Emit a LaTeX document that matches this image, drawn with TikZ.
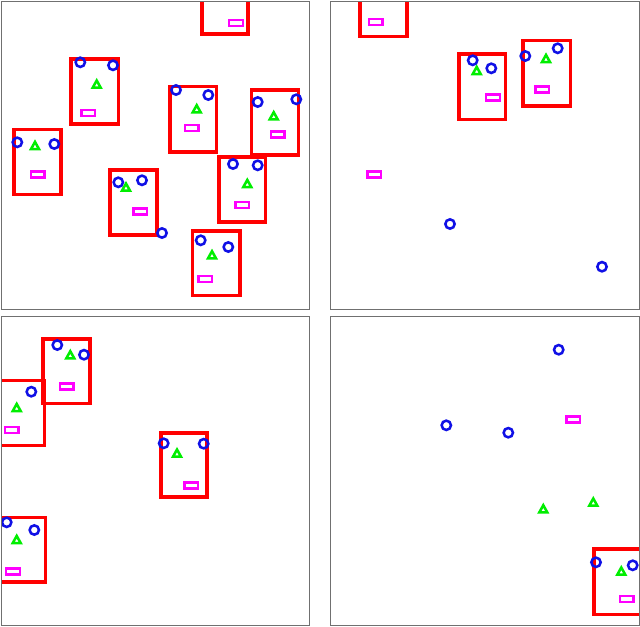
\documentclass[tikz,border=0pt]{standalone}
\usetikzlibrary{positioning}
\definecolor{pborder}{HTML}{707070}
\definecolor{gred}{HTML}{FF0000}
\definecolor{cblue}{HTML}{1010E6}
\definecolor{tgreen}{HTML}{00EE00}
\definecolor{mmag}{HTML}{FF00FF}
\tikzset{
  panelbox/.style={draw=pborder, line width=0.75pt},
  grpbox/.style={draw=gred, line width=2.3pt},
  bcircle/.pic={\draw[cblue, line width=1.9pt] (0,0) circle[radius=3.5pt];},
  gtri/.pic={\draw[tgreen, line width=1.9pt, line join=miter] (-4,3.4) -- (4,3.4) -- (0,-3.8) -- cycle;},
  mrect/.pic={\draw[mmag, line width=1.9pt] (-6.8,-3) rectangle (6.8,3);}
}
\newcommand{\grp}[2]{\draw[grpbox] (#1) rectangle (#2);}
\newcommand{\bcs}[1]{\foreach \p in {#1} {\pic at (\p) {bcircle};}}
\newcommand{\gts}[1]{\foreach \p in {#1} {\pic at (\p) {gtri};}}
\newcommand{\mrs}[1]{\foreach \p in {#1} {\pic at (\p) {mrect};}}
\begin{document}
\begin{tikzpicture}[x=0.75pt, y=-0.75pt]
\useasboundingbox (0,0) rectangle (640,626);
\fill[white] (0,0) rectangle (640,626);
% ---------------- top left
\begin{scope}
\clip (1,1) rectangle (309.5,309.5);
\grp{202,-32}{248,34}
\grp{71,59}{118.5,124}
\grp{14,129.5}{61,194.5}
\grp{170,86.5}{216.5,152}
\grp{251.5,90}{298.5,155}
\grp{219,157}{265.5,222}
\grp{110,170}{157,235}
\grp{192.5,231}{240,295.5}
\bcs{{80.3,62.3},{113,65.3},{17.3,142.3},{54.3,144},{176,90},{208.3,95},{257.7,102},{296.3,99.3},{233,164},{257.7,165.3},{118.3,182.3},{142,180.3},{162,233},{200.7,240.3},{228.3,247}}
\gts{{96.7,84.3},{35,145.7},{196.7,109},{273.7,116},{247.3,183.7},{126,187.3},{212,255}}
\mrs{{236,23},{88.3,113},{37.7,174.3},{191.7,128},{277.7,134.3},{242.3,205},{140.3,211.3},{205.3,279}}
\end{scope}
\draw[panelbox] (1,1) rectangle (309.5,309.5);
% ---------------- top right
\begin{scope}
\clip (330,1) rectangle (639,309.5);
\grp{360,-30}{407,36.5}
\grp{459,54}{505.5,119.5}
\grp{523,40.5}{570.5,106}
\bcs{{472.7,60.3},{491.3,68.3},{525.3,56},{557.7,48.3},{450,224},{602,266.7}}
\gts{{476.7,70.7},{546,58.7}}
\mrs{{375.7,22},{493,97.3},{542.3,89.7},{374.3,174.3}}
\end{scope}
\draw[panelbox] (330,1) rectangle (639,309.5);
% ---------------- bottom left
\begin{scope}
\clip (1,316.5) rectangle (309.5,625.5);
\grp{43,339}{90,403.5}
\grp{-3,380.5}{44.5,445.5}
\grp{161,433}{207,497}
\grp{-2,517.5}{45.5,582}
\bcs{{57.3,345},{84,354.7},{31.3,391.7},{163.7,443.3},{203.7,443.7},{6.7,522.3},{34.3,530}}
\gts{{70.3,355},{16.7,407.7},{177,453.3},{16.7,539.7}}
\mrs{{66.7,386.7},{11.7,430},{191.3,485.3},{13,571.3}}
\end{scope}
\draw[panelbox] (1,316.5) rectangle (309.5,625.5);
% ---------------- bottom right
\begin{scope}
\clip (330,316.5) rectangle (639,625.5);
\grp{594,549}{641,614.5}
\bcs{{558.7,349.7},{446.3,425.3},{508.3,432.7},{596,562.3},{632.7,565.3}}
\gts{{543.3,509},{593.3,502.3},{621.3,571.3}}
\mrs{{573.3,419.3},{626.7,599}}
\end{scope}
\draw[panelbox] (330,316.5) rectangle (639,625.5);
\end{tikzpicture}
\end{document}
